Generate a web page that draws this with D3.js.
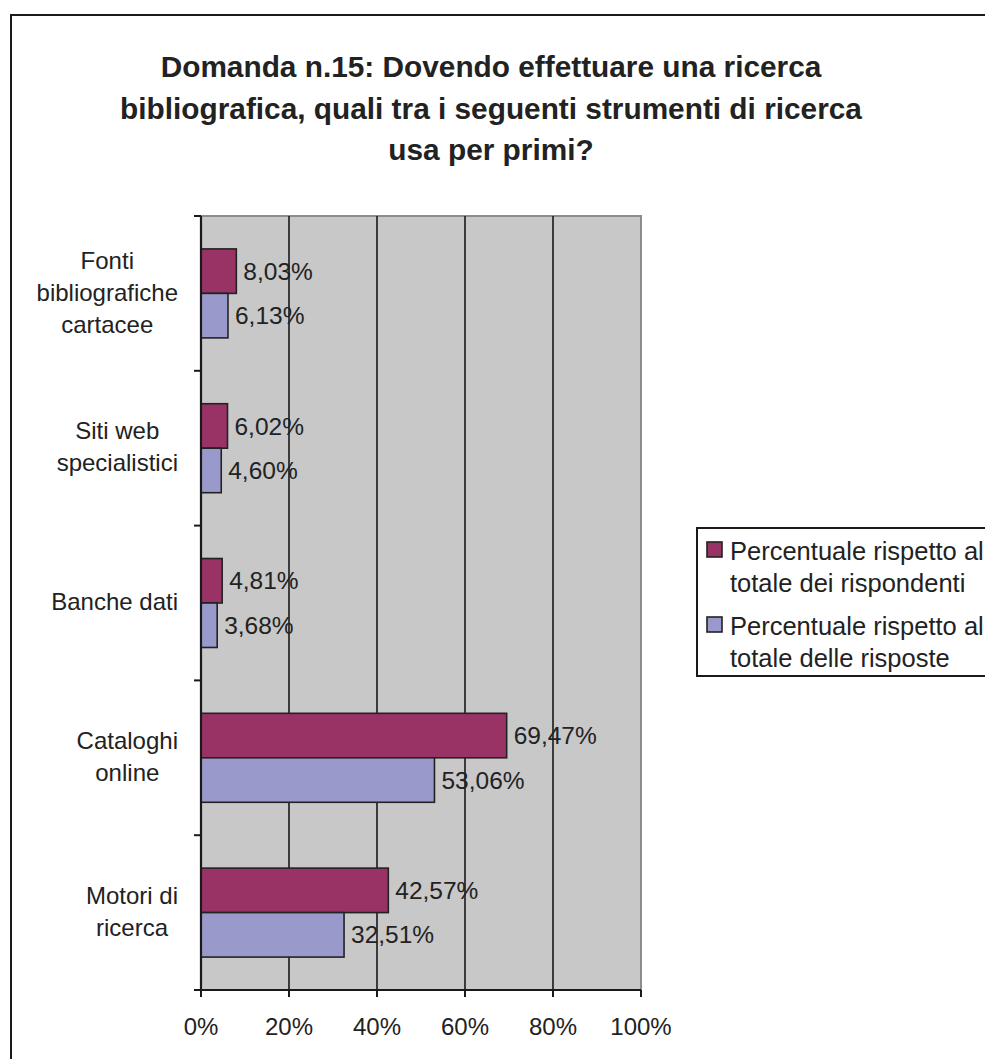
<!DOCTYPE html>
<html>
<head>
<meta charset="utf-8">
<script src="https://cdn.jsdelivr.net/npm/d3@7"></script>
<style>
  html, body { margin: 0; padding: 0; background: #fff; }
  svg { display: block; }
  text { font-family: Arial, "Liberation Sans", Helvetica, sans-serif; fill: #222; }
</style>
</head>
<body>
<svg id="chart" width="985" height="1059"></svg>
<script>
// Survey question and answers
const titleLines = [
  "Domanda n.15: Dovendo effettuare una ricerca",
  "bibliografica, quali tra i seguenti strumenti di ricerca",
  "usa per primi?"
];
const categories = ["Fonti bibliografiche cartacee", "Siti web specialistici", "Banche dati", "Cataloghi online", "Motori di ricerca"];
const categoryLines = [["Fonti", "bibliografiche", "cartacee"], ["Siti web", "specialistici"], ["Banche dati"], ["Cataloghi", "online"], ["Motori di", "ricerca"]];
const seriesNames = ["Percentuale rispetto al totale dei rispondenti", "Percentuale rispetto al totale delle risposte"];
const legendLines = [["Percentuale rispetto al", "totale dei rispondenti"], ["Percentuale rispetto al", "totale delle risposte"]];
const respondents = [8.03, 6.02, 4.81, 69.47, 42.57];
const responses = [6.13, 4.60, 3.68, 53.06, 32.51];
const xTicks = [0, 20, 40, 60, 80, 100];
const colors = ["#993366", "#9999CC"];

const svg = d3.select("#chart");

// Outer chart frame
svg.append("rect")
  .attr("x", 11).attr("y", 15).attr("width", 1200).attr("height", 1200)
  .attr("fill", "none").attr("stroke", "#1a1a1a").attr("stroke-width", 2);

// Title
svg.append("g").selectAll("text").data(titleLines).join("text")
  .attr("x", 491).attr("y", (d, i) => 77 + i * 41.5)
  .attr("text-anchor", "middle")
  .style("font-size", "29.8px").style("font-weight", "bold")
  .text(d => d);

const plot = { left: 201, right: 641, top: 216, bottom: 990 };

const x = d3.scaleLinear().domain([0, 100]).range([plot.left, plot.right]);
const y = d3.scaleBand().domain(categories).range([plot.top, plot.bottom]).padding(0);
const ySub = d3.scaleBand().domain(seriesNames).range([0, y.bandwidth()]).paddingInner(0).paddingOuter(0.74);

// Plot background
svg.append("rect")
  .attr("x", plot.left).attr("y", plot.top)
  .attr("width", plot.right - plot.left).attr("height", plot.bottom - plot.top)
  .attr("fill", "#C8C8C9");

// Top and right border of the plot area
svg.append("path")
  .attr("d", `M${plot.left},${plot.top}H${plot.right}V${plot.bottom}`)
  .attr("fill", "none").attr("stroke", "#8c8c8c").attr("stroke-width", 2);

// Vertical gridlines
svg.append("g").selectAll("line").data(xTicks.slice(1, -1)).join("line")
  .attr("x1", d => x(d)).attr("x2", d => x(d))
  .attr("y1", plot.top).attr("y2", plot.bottom)
  .attr("stroke", "#1a1a1a").attr("stroke-width", 1.6);

// Bars
const rows = categories.map((c, i) => ({ cat: c, vals: [respondents[i], responses[i]] }));
const groups = svg.append("g").selectAll("g").data(rows).join("g")
  .attr("transform", d => `translate(0,${y(d.cat)})`);

groups.selectAll("rect").data(d => d.vals.map((v, j) => ({ v, s: seriesNames[j], j }))).join("rect")
  .attr("x", x(0))
  .attr("y", d => ySub(d.s))
  .attr("width", d => x(d.v) - x(0))
  .attr("height", ySub.bandwidth())
  .attr("fill", d => colors[d.j])
  .attr("stroke", "#222").attr("stroke-width", 1.6);

const fmt = v => d3.format(".2f")(v).replace(".", ",") + "%";
groups.selectAll("text").data(d => d.vals.map((v, j) => ({ v, s: seriesNames[j], j }))).join("text")
  .attr("x", d => x(d.v) + 7)
  .attr("y", d => ySub(d.s) + ySub.bandwidth() / 2)
  .attr("dy", "0.35em")
  .style("font-size", "24.5px")
  .text(d => fmt(d.v));

// Category axis
const yAxisTicks = categories.map(c => y(c)).concat([plot.bottom]);
svg.append("g").selectAll("line").data(yAxisTicks).join("line")
  .attr("x1", plot.left - 7).attr("x2", plot.left)
  .attr("y1", d => d).attr("y2", d => d)
  .attr("stroke", "#1a1a1a").attr("stroke-width", 2);
svg.append("line")
  .attr("x1", plot.left).attr("x2", plot.left)
  .attr("y1", plot.top).attr("y2", plot.bottom)
  .attr("stroke", "#1a1a1a").attr("stroke-width", 2.2);

// Category labels: each block is right-aligned, its lines centred within it
const labelRight = 178;
const lineH = 32;
categories.forEach((c, i) => {
  const lines = categoryLines[i];
  const g = svg.append("g");
  const cy = y(c) + y.bandwidth() / 2;
  const texts = g.selectAll("text").data(lines).join("text")
    .attr("y", (d, k) => cy + (k - (lines.length - 1) / 2) * lineH)
    .attr("dy", "0.3em")
    .attr("text-anchor", "middle")
    .style("font-size", "24px")
    .text(d => d);
  let maxW = 0;
  texts.each(function () { maxW = Math.max(maxW, this.getComputedTextLength()); });
  texts.attr("x", labelRight - maxW / 2);
});

// Value axis
svg.append("line")
  .attr("x1", plot.left).attr("x2", plot.right)
  .attr("y1", plot.bottom).attr("y2", plot.bottom)
  .attr("stroke", "#1a1a1a").attr("stroke-width", 2.2);
svg.append("g").selectAll("line").data(xTicks).join("line")
  .attr("x1", d => x(d)).attr("x2", d => x(d))
  .attr("y1", plot.bottom).attr("y2", plot.bottom + 7)
  .attr("stroke", "#1a1a1a").attr("stroke-width", 2);
svg.append("g").selectAll("text").data(xTicks).join("text")
  .attr("x", d => x(d)).attr("y", 1035)
  .attr("text-anchor", "middle")
  .style("font-size", "24px")
  .text(d => d + "%");

// Legend
const legend = svg.append("g");
legend.append("rect")
  .attr("x", 697).attr("y", 528).attr("width", 400).attr("height", 148)
  .attr("fill", "#fff").attr("stroke", "#1a1a1a").attr("stroke-width", 2);
seriesNames.forEach((s, i) => {
  const top = 542 + i * 75;
  legend.append("rect")
    .attr("x", 707).attr("y", top).attr("width", 15).attr("height", 15)
    .attr("fill", colors[i]).attr("stroke", "#222").attr("stroke-width", 1.6);
  legend.selectAll(null).data(legendLines[i]).join("text")
    .attr("x", 730).attr("y", (d, k) => top + 18 + k * 32)
    .style("font-size", "25.5px")
    .text(d => d);
});
</script>
</body>
</html>
